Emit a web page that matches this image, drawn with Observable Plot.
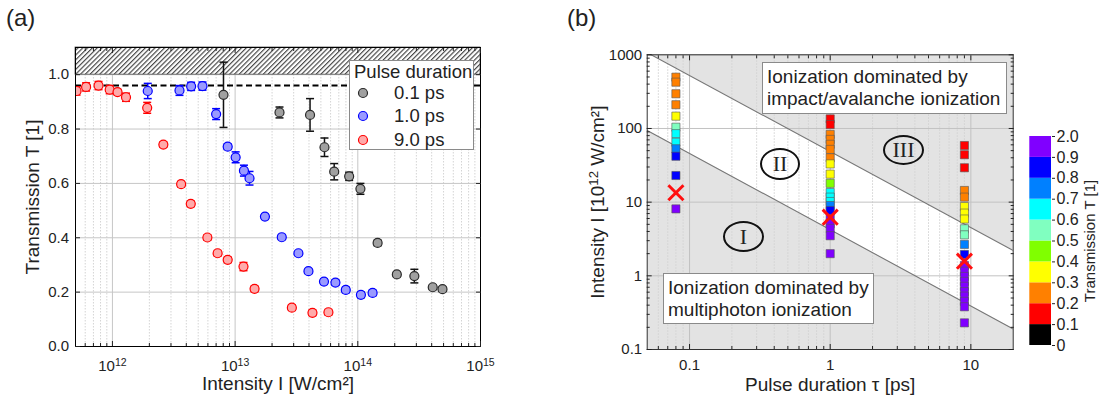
<!DOCTYPE html>
<html><head><meta charset="utf-8">
<script src="https://cdn.jsdelivr.net/npm/d3@7"></script>
<script src="https://cdn.jsdelivr.net/npm/@observablehq/plot@0.6"></script>
<style>
body{margin:0;background:#fff;}
#root{position:relative;width:1106px;height:408px;overflow:hidden;font-family:"Liberation Sans",Arial,sans-serif;color:#222;}
#root svg.plotsvg{position:absolute;top:0;}
.abs{position:absolute;white-space:nowrap;}
.panel{font-size:24px;}
.box{position:absolute;background:#fff;border:1px solid #8a8a8a;font-size:19px;line-height:22px;box-sizing:border-box;padding:3px 4px;white-space:nowrap;}
.roman{position:absolute;border:2px solid #111;border-radius:50%;box-sizing:border-box;font-family:"Liberation Serif","DejaVu Serif",serif;font-size:22px;display:flex;align-items:center;justify-content:center;background:transparent;}
.leg{position:absolute;background:#fff;border:1px solid #8a8a8a;box-sizing:border-box;font-size:18.5px;}
</style></head><body><div id="root"></div>
<script>
// ---------------- Panel (a) data ----------------
const seriesNamesA = ["0.1 ps", "1.0 ps", "9.0 ps"];
// 0.1 ps (gray)
const grayI = [8.04e12, 2.3e13, 4.08e13, 5.35e13, 6.42e13, 8.5e13, 1.05e14, 1.45e14, 2.08e14, 2.89e14, 4.08e14, 4.9e14];
const grayT = [0.926, 0.861, 0.852, 0.733, 0.643, 0.626, 0.580, 0.381, 0.265, 0.259, 0.218, 0.211];
const grayE = [0.12, 0.02, 0.06, 0.034, 0.03, 0.015, 0.02, 0.01, 0.008, 0.025, 0.008, 0.008];
// 1.0 ps (blue)
const blueI = [1.94e12, 3.52e12, 4.38e12, 5.42e12, 7.0e12, 8.7e12, 1.01e13, 1.18e13, 1.31e13, 1.75e13, 2.4e13, 3.28e13, 3.96e13, 5.3e13, 6.57e13, 7.98e13, 1.06e14, 1.32e14];
const blueT = [0.940, 0.942, 0.957, 0.958, 0.855, 0.735, 0.696, 0.647, 0.619, 0.478, 0.402, 0.343, 0.277, 0.239, 0.235, 0.208, 0.190, 0.197];
const blueE = [0.028, 0.018, 0.015, 0.015, 0.02, 0.01, 0.02, 0.02, 0.025, 0.008, 0.008, 0.008, 0.008, 0.01, 0.01, 0.01, 0.01, 0.01];
// 9.0 ps (red)
const redI = [5.1e11, 6.1e11, 7.7e11, 9.5e11, 1.1e12, 1.29e12, 1.92e12, 2.6e12, 3.63e12, 4.35e12, 5.94e12, 7.2e12, 8.7e12, 1.17e13, 1.44e13, 2.9e13, 4.27e13, 5.76e13];
const redT = [0.940, 0.955, 0.960, 0.945, 0.936, 0.917, 0.878, 0.743, 0.597, 0.525, 0.401, 0.343, 0.319, 0.294, 0.212, 0.143, 0.124, 0.126];
const redE = [0.015, 0.015, 0.015, 0.015, 0.01, 0.015, 0.02, 0.01, 0.01, 0.01, 0.01, 0.01, 0.01, 0.015, 0.01, 0.01, 0.01, 0.01];
const refLevelA = [0.96];
const hatchBandA = [{lo: 1.0, hi: 1.1}];
const xTicksA = [1e12, 1e13, 1e14, 1e15];
const xTickLabelsA = ["10^12", "10^13", "10^14", "10^15"];
const yTicksA = [0, 0.2, 0.4, 0.6, 0.8, 1.0];
const xLabelA = "Intensity I [W/cm²]";
const yLabelA = "Transmission T [1]";
const legendTitleA = "Pulse duration";

// ---------------- Panel (b) data ----------------
const colTaus = [0.08, 1, 9];
const col1I = [497, 425, 296, 210, 147, 104, 85, 65, 53, 42, 23, 8.1];
const col1T = [0.25, 0.25, 0.25, 0.25, 0.35, 0.55, 0.65, 0.65, 0.75, 0.85, 0.85, 0.95];
const col2I = [135, 113, 83, 71, 61, 52, 40, 33, 24, 18, 13.5, 11.7, 10.2, 9.0, 7.7, 6.0, 5.1, 4.4, 3.5, 2.0];
const col2T = [0.15, 0.15, 0.25, 0.25, 0.25, 0.25, 0.25, 0.35, 0.35, 0.45, 0.65, 0.65, 0.65, 0.75, 0.85, 0.95, 0.95, 0.95, 0.95, 0.95];
const col3I = [58.7, 44, 29.3, 14.4, 11.7, 8.7, 7.1, 5.9, 4.35, 3.6, 2.67, 1.95, 1.38, 1.15, 0.98, 0.84, 0.72, 0.61, 0.53, 0.45, 0.38, 0.23];
const col3T = [0.15, 0.15, 0.15, 0.25, 0.25, 0.35, 0.35, 0.35, 0.55, 0.55, 0.75, 0.85, 0.95, 0.95, 0.95, 0.95, 0.95, 0.95, 0.95, 0.95, 0.95, 0.95];
const crossTau = [0.08, 1, 9];
const crossI = [13.4, 6.25, 1.58];
const boundTau = [0.05, 20];
const boundLower = [94, 0.19];
const boundUpper = [1070, 2.2];
const xTicksB = [0.1, 1, 10];
const xTickLabelsB = ["0.1", "1", "10"];
const yTicksB = [0.1, 1, 10, 100, 1000];
const yTickLabelsB = ["0.1", "1", "10", "100", "1000"];
const xLabelB = "Pulse duration τ [ps]";
const yLabelB = "Intensity I [10^12 W/cm²]";
const boxTextsB = [["Ionization dominated by", "impact/avalanche ionization"], ["Ionization dominated by", "multiphoton ionization"]];
const romanB = ["I", "II", "III"];

// ---------------- Colorbar ----------------
const cbThresholds = [0.1, 0.2, 0.3, 0.4, 0.5, 0.6, 0.7, 0.8, 0.9];
const cbColors = ["#000000", "#ff0000", "#ff8000", "#ffff00", "#80ff00", "#80ffc0", "#00ffff", "#0080ff", "#0000ff", "#8000ff"];
const cbLabels = ["0", "0.1", "0.2", "0.3", "0.4", "0.5", "0.6", "0.7", "0.8", "0.9", "2.0"];
const cbTitle = "Transmission T [1]";

// ================= build =================
const root = document.getElementById("root");
const FONT = "Liberation Sans, Arial, sans-serif";
function minorTicks(lo, hi) {
  const out = [];
  for (let e = Math.floor(Math.log10(lo)); e <= Math.ceil(Math.log10(hi)); e++)
    for (let m = 2; m <= 9; m++) { const v = m * Math.pow(10, e); if (v > lo && v < hi) out.push(v); }
  return out;
}
const capSymbol = {draw(ctx, size) { const r = Math.sqrt(size / Math.PI); ctx.moveTo(-r, 0); ctx.lineTo(r, 0); }};
function place(svg, left) { svg.classList.add("plotsvg"); svg.style.left = left + "px"; root.appendChild(svg); }
// turn "10^12" inside svg texts into a real superscript
function superscripts(svg) {
  svg.querySelectorAll("text, tspan").forEach(t => {
    if (t.children.length === 0 && /\^\d+/.test(t.textContent)) {
      const m = t.textContent.match(/^(.*?)\^(\d+)(.*)$/);
      t.textContent = "";
      const ns = "http://www.w3.org/2000/svg";
      const a = document.createElementNS(ns, "tspan"); a.textContent = m[1];
      const b = document.createElementNS(ns, "tspan"); b.textContent = m[2]; b.setAttribute("dy", "-0.45em"); b.setAttribute("font-size", "0.7em");
      t.appendChild(a); t.appendChild(b);
      if (m[3]) { const c = document.createElementNS(ns, "tspan"); c.textContent = m[3]; c.setAttribute("dy", "0.315em"); t.appendChild(c); }
    }
  });
}

// ---- Panel (a)
const styleA = [
  {name: seriesNamesA[0], I: grayI, T: grayT, E: grayE, fill: "#a0a0a0", stroke: "#2a2a2a", bar: "#111111"},
  {name: seriesNamesA[1], I: blueI, T: blueT, E: blueE, fill: "#9a9aff", stroke: "#0000ff", bar: "#0000ff"},
  {name: seriesNamesA[2], I: redI, T: redT, E: redE, fill: "#ffaaaa", stroke: "#ff0000", bar: "#ff0000"}
];
const domA = [5e11, 1e15];
const minorA = minorTicks(domA[0], domA[1]);
const marksA = [
  Plot.gridX(minorA, {stroke: "#d4d4d4", strokeOpacity: 1, strokeDasharray: "1.5,1.5"}),
  Plot.gridX(xTicksA, {stroke: "#c6c6c6", strokeOpacity: 1}),
  Plot.gridY(yTicksA, {stroke: "#c6c6c6", strokeOpacity: 1}),
  Plot.rect(hatchBandA, {y1: "lo", y2: "hi", fill: "url(#hatchA)", stroke: "#555", strokeWidth: 0.8}),
  Plot.ruleY(refLevelA, {stroke: "#000", strokeWidth: 2, strokeDasharray: "6,3.5"})
];
for (const s of styleA) {
  const rows = s.I.map((x, i) => ({x, t: s.T[i], lo: s.T[i] - s.E[i], hi: s.T[i] + s.E[i]}));
  marksA.push(
    Plot.ruleX(rows, {x: "x", y1: "lo", y2: "hi", stroke: s.bar, strokeWidth: 1.5, clip: true}),
    Plot.dot(rows, {x: "x", y: "lo", symbol: capSymbol, r: 4, stroke: s.bar, strokeWidth: 1.5, clip: true}),
    Plot.dot(rows, {x: "x", y: "hi", symbol: capSymbol, r: 4, stroke: s.bar, strokeWidth: 1.5, clip: true}),
    Plot.dot(rows, {x: "x", y: "t", r: 4.5, fill: s.fill, stroke: s.stroke, strokeWidth: 1.2, clip: true})
  );
}
marksA.push(
  Plot.frame({stroke: "#000"}),
  Plot.axisX({ticks: xTicksA, tickFormat: d => xTickLabelsA[xTicksA.indexOf(d)], tickSize: -5, tickPadding: 19, label: null}),
  Plot.axisX({ticks: minorA, tickFormat: () => "", tickSize: -3, label: null}),
  Plot.axisX({anchor: "top", ticks: xTicksA, tickFormat: () => "", tickSize: -5, label: null}),
  Plot.axisX({anchor: "top", ticks: minorA, tickFormat: () => "", tickSize: -3, label: null}),
  Plot.axisY({ticks: yTicksA, tickFormat: d3.format(".1f"), tickSize: -5, tickPadding: 11.5, label: null}),
  Plot.axisY({anchor: "right", ticks: yTicksA, tickFormat: () => "", tickSize: -5, label: null}),
  Plot.text([xLabelA], {frameAnchor: "bottom", dy: 43, fontSize: 19, textAnchor: "middle"}),
  Plot.text([yLabelA], {frameAnchor: "left", dx: -43, rotate: -90, fontSize: 19, textAnchor: "middle"})
);
const svgA = Plot.plot({
  width: 500, height: 408, marginLeft: 75, marginRight: 20, marginTop: 47, marginBottom: 62,
  x: {type: "log", domain: domA}, y: {domain: [0, 1.1]},
  style: {fontFamily: FONT, fontSize: "15px", background: "transparent", overflow: "visible", color: "#222"},
  marks: marksA
});
const ns = "http://www.w3.org/2000/svg";
const defs = document.createElementNS(ns, "defs");
defs.innerHTML = '<pattern id="hatchA" patternUnits="userSpaceOnUse" width="3.4" height="3.4" patternTransform="rotate(45)"><rect width="3.4" height="3.4" fill="#ffffff"/><line x1="0.6" y1="0" x2="0.6" y2="3.4" stroke="#3a3a3a" stroke-width="1.1"/></pattern>';
svgA.insertBefore(defs, svgA.firstChild);
superscripts(svgA);
place(svgA, 0);

// ---- Panel (b)
const domBx = [0.05, 20], domBy = [0.1, 1000];
const minorBx = minorTicks(domBx[0], domBx[1]);
const minorBy = minorTicks(domBy[0], domBy[1]);
const squares = [];
[[col1I, col1T], [col2I, col2T], [col3I, col3T]].forEach(([I, T], c) => I.forEach((v, i) => squares.push({tau: colTaus[c], I: v, T: T[i]})));
const crosses = crossTau.map((t, i) => ({tau: t, I: crossI[i]}));
const bounds = boundTau.map((t, i) => ({tau: t, lower: boundLower[i], upper: boundUpper[i]}));
const svgB = Plot.plot({
  width: 480, height: 408, marginLeft: 106.7, marginRight: 7.3, marginTop: 54.3, marginBottom: 59,
  x: {type: "log", domain: domBx}, y: {type: "log", domain: domBy},
  color: {type: "threshold", domain: cbThresholds, range: cbColors},
  style: {fontFamily: FONT, fontSize: "15px", background: "transparent", overflow: "visible", color: "#222"},
  marks: [
    Plot.frame({fill: "#e3e3e3", stroke: null}),
    Plot.areaY(bounds, {x: "tau", y1: "lower", y2: "upper", fill: "#ffffff", clip: true}),
    Plot.gridX(minorBx, {stroke: "#d2d2d2", strokeOpacity: 1, strokeDasharray: "1.5,1.5"}),
    Plot.gridX(xTicksB, {stroke: "#c2c2c2", strokeOpacity: 1}),
    Plot.gridY(yTicksB, {stroke: "#c2c2c2", strokeOpacity: 1}),
    Plot.line(bounds, {x: "tau", y: "upper", stroke: "#777", strokeWidth: 1.1, clip: true}),
    Plot.line(bounds, {x: "tau", y: "lower", stroke: "#777", strokeWidth: 1.1, clip: true}),
    Plot.dot(squares, {x: "tau", y: "I", fill: "T", symbol: "square", r: 4.6, stroke: "#555", strokeWidth: 0.6}),
    Plot.dot(crosses, {x: "tau", y: "I", symbol: "times", r: 6.9, stroke: "#ff1010", strokeWidth: 3}),
    Plot.frame({stroke: "#333"}),
    Plot.axisX({ticks: xTicksB, tickFormat: d => xTickLabelsB[xTicksB.indexOf(d)], tickSize: -5, tickPadding: 14.5, label: null}),
    Plot.axisX({ticks: minorBx, tickFormat: () => "", tickSize: -3, label: null}),
    Plot.axisX({anchor: "top", ticks: xTicksB, tickFormat: () => "", tickSize: -5, label: null}),
    Plot.axisX({anchor: "top", ticks: minorBx, tickFormat: () => "", tickSize: -3, label: null}),
    Plot.axisY({ticks: yTicksB, tickFormat: d => yTickLabelsB[yTicksB.indexOf(d)], tickSize: -5, tickPadding: 10, label: null}),
    Plot.axisY({ticks: minorBy, tickFormat: () => "", tickSize: -3, label: null}),
    Plot.axisY({anchor: "right", ticks: yTicksB, tickFormat: () => "", tickSize: -5, label: null}),
    Plot.axisY({anchor: "right", ticks: minorBy, tickFormat: () => "", tickSize: -3, label: null}),
    Plot.text([xLabelB], {frameAnchor: "bottom", dy: 41, fontSize: 19, textAnchor: "middle"}),
    Plot.text([yLabelB], {frameAnchor: "left", dx: -49, rotate: -90, fontSize: 19, textAnchor: "middle"})
  ]
});
superscripts(svgB);
place(svgB, 540);

// ---- Colorbar
const bands = cbColors.map((c, i) => ({lo: i, hi: i + 1, c}));
const svgC = Plot.plot({
  width: 86, height: 408, marginLeft: 9.3, marginRight: 55, marginTop: 136, marginBottom: 63,
  y: {domain: [0, 10]},
  style: {fontFamily: FONT, fontSize: "16px", background: "transparent", overflow: "visible", color: "#222"},
  marks: [
    Plot.rect(bands, {y1: "lo", y2: "hi", fill: "c"}),
    Plot.axisY({anchor: "right", ticks: d3.range(11), tickFormat: i => cbLabels[i], tickSize: 3, tickPadding: 2, label: null}),
    Plot.text([cbTitle], {frameAnchor: "right", dx: 39, rotate: -90, fontSize: 15, textAnchor: "middle"})
  ]
});
place(svgC, 1020);

// ---- HTML annotations
function div(cls, css, html) { const d = document.createElement("div"); d.className = cls; d.style.cssText = css; d.innerHTML = html; root.appendChild(d); return d; }
div("abs panel", "left:6px;top:4px;", "(a)");
div("abs panel", "left:567px;top:4px;", "(b)");
// legend (a)
const leg = div("leg", "left:349px;top:60px;width:125px;height:90px;", "");
const lt = document.createElement("div"); lt.className = "abs"; lt.style.cssText = "left:4px;top:0px;"; lt.textContent = legendTitleA; leg.appendChild(lt);
styleA.forEach((s, i) => {
  const row = document.createElement("div"); row.className = "abs";
  row.style.cssText = `left:6px;top:${21 + i * 23.3}px;height:22px;display:flex;align-items:center;`;
  row.innerHTML = `<svg width="14" height="14" style="position:static"><circle cx="7" cy="7" r="4.5" fill="${s.fill}" stroke="${s.stroke}" stroke-width="1.2"/></svg><span style="margin-left:24px">${s.name}</span>`;
  leg.appendChild(row);
});
// text boxes (b)
div("box", "left:762px;top:62px;width:245px;height:52px;", boxTextsB[0].join("<br>"));
div("box", "left:663px;top:273px;width:211px;height:51px;", boxTextsB[1].join("<br>"));
// roman numerals (b)
div("roman", "left:723px;top:221px;width:41px;height:31px;", romanB[0]);
div("roman", "left:760px;top:148px;width:40px;height:32px;", romanB[1]);
div("roman", "left:883px;top:135px;width:41px;height:30px;", romanB[2]);
</script>
</body></html>
